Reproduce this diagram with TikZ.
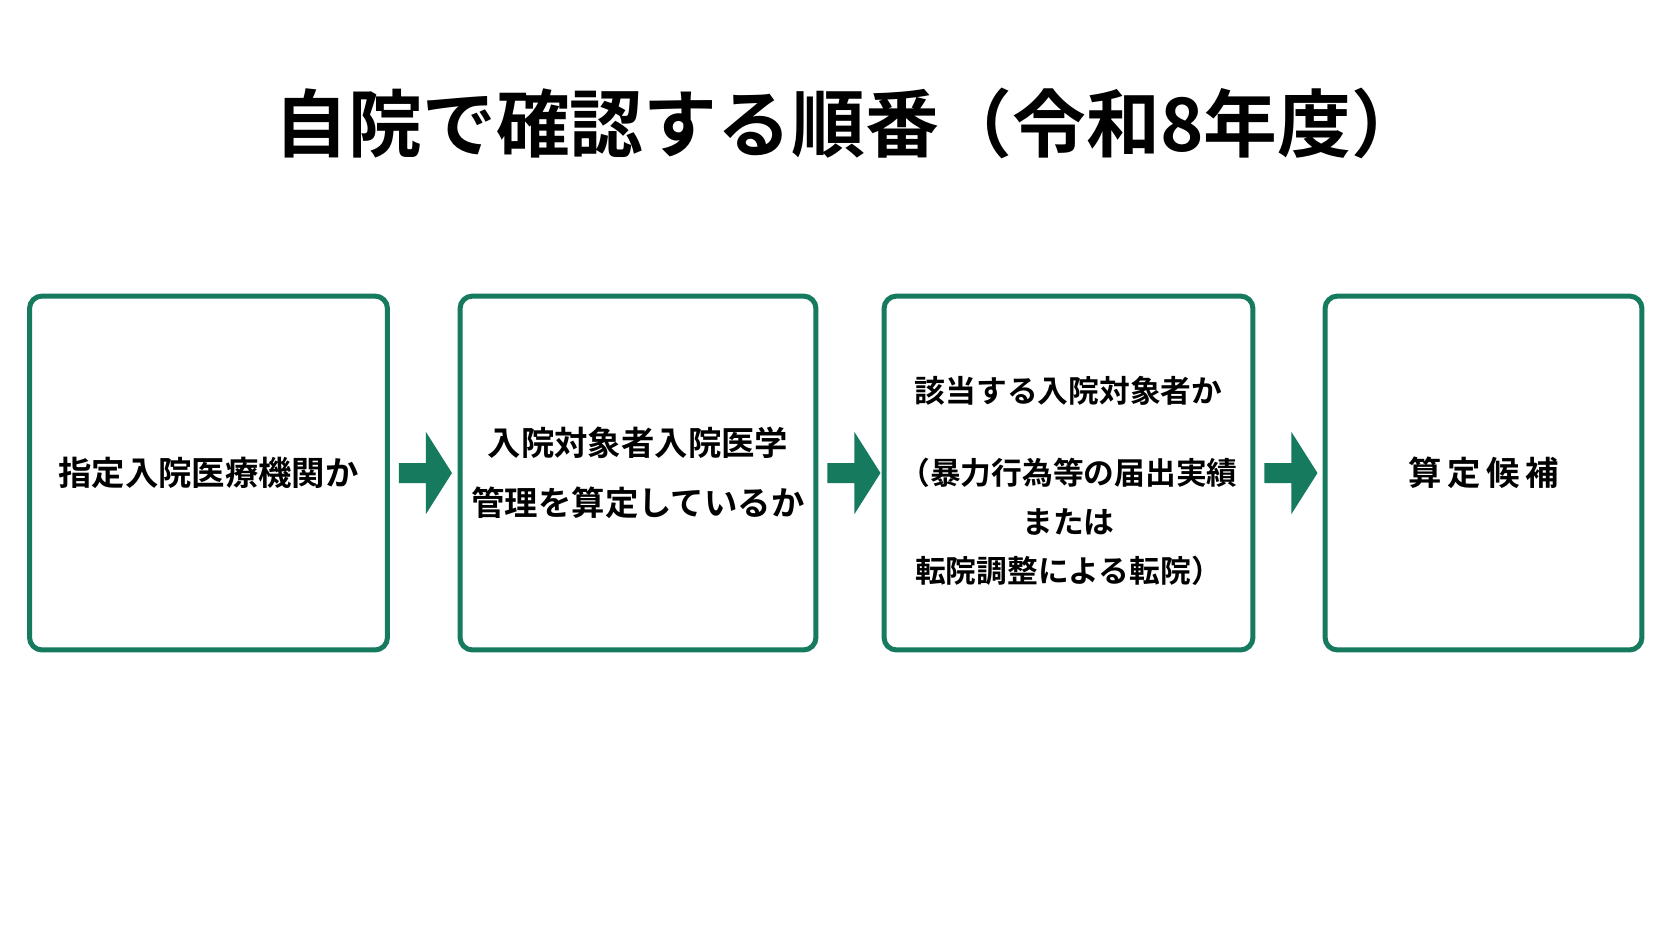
\documentclass[tikz,border=0pt]{standalone}
\usepackage{fontspec}
\setmainfont{Noto Sans CJK JP}[BoldFont={Noto Sans CJK JP Bold}]
\usetikzlibrary{calc}
\definecolor{stepgreen}{HTML}{157A5E}
\tikzset{
  stepbox/.style={draw=stepgreen, line width=0.1cm, rounded corners=0.25cm, fill=white,
    minimum height=7.08cm, align=center, font=\bfseries\fontsize{19pt}{30pt}\selectfont},
  steptext/.style={align=center, font=\bfseries\fontsize{17.5pt}{28pt}\selectfont},
  flow/.style={fill=stepgreen}
}
\newcommand{\flowarrow}[2]{%
  \fill[flow] ($(#1.east)+(9,-10)$) -- ++(27,0) -- ++(0,-31) -- ++(26,41) -- ++(-26,41) -- ++(0,-31) -- ++(-27,0) -- cycle;}
\begin{document}
\begin{tikzpicture}[x=0.02cm, y=-0.02cm]
\useasboundingbox[fill=white] (0,0) rectangle (1672,941);
\node[font=\bfseries\fontsize{42pt}{48pt}\selectfont] (title) at (850,123) {自院で確認する順番（令和8年度）};
% steps
\node[stepbox, minimum width=7.16cm] (s1) at (208.5,473) {指定入院医療機関か};
\node[stepbox, minimum width=7.12cm] (s2) at (638,473) {入院対象者入院医学\\[4pt]管理を算定しているか};
\node[stepbox, minimum width=7.38cm] (s3) at (1068.5,473) {};
\node[stepbox, minimum width=6.34cm] (s4) at (1483.5,473) {算\,定\,候\,補};
\node[steptext] (s3top) at (1068.5,391) {該当する入院対象者か};
\node[steptext] (s3sub) at (1068.5,522) {（暴力行為等の届出実績\\または\\転院調整による転院）};
% arrows
\flowarrow{s1}{s2}
\flowarrow{s2}{s3}
\flowarrow{s3}{s4}
\end{tikzpicture}
\end{document}
